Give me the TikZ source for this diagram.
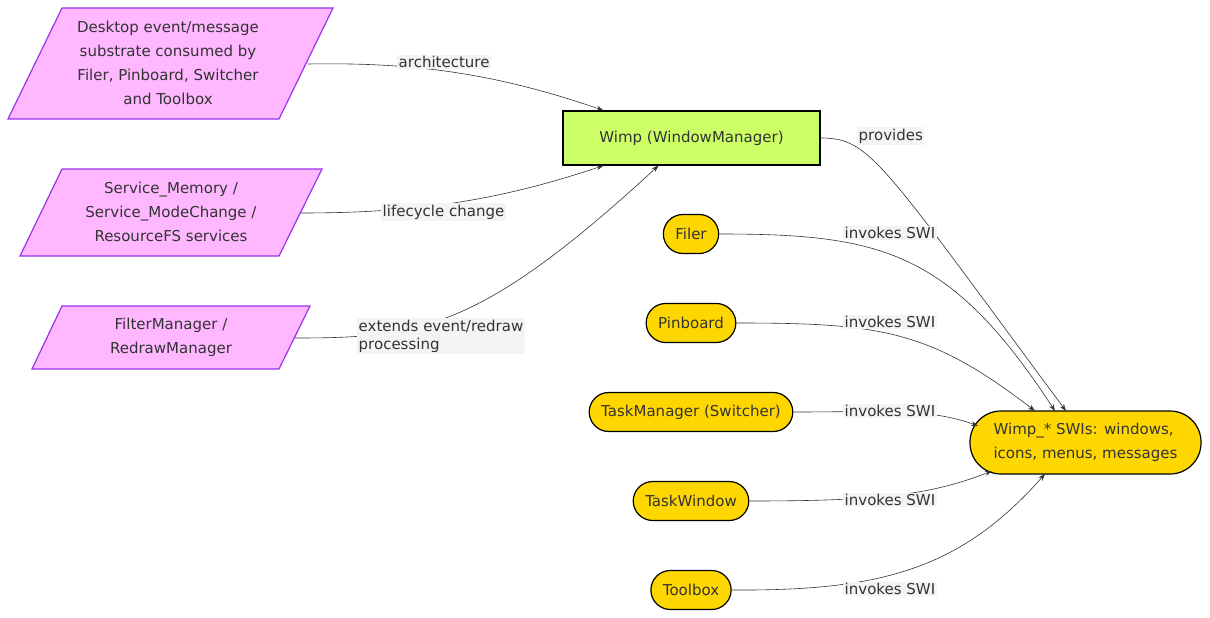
\documentclass[tikz,border=0pt]{standalone}
\usepackage{fontspec}
\setmainfont{DejaVu Sans}
\usetikzlibrary{arrows.meta}
\definecolor{pfill}{HTML}{FFB8FF}
\definecolor{pdraw}{HTML}{9933EE}
\definecolor{gfill}{HTML}{CCFF66}
\definecolor{yfill}{HTML}{FFD700}
\definecolor{lbg}{HTML}{F4F4F4}
\definecolor{tx}{HTML}{333333}
\tikzset{
  para/.style={fill=pfill,draw=pdraw,line width=1.2pt},
  ptext/.style={align=center,text=tx,font=\fontsize{15}{24}\selectfont},
  stad/.style={draw=black,fill=yfill,line width=1.2pt,rounded corners=19.5pt,text=tx,font=\fontsize{15}{24}\selectfont,minimum height=39pt,inner xsep=12pt},
  elab/.style={fill=lbg,text=tx,anchor=west,align=left,inner sep=1.5pt,font=\fontsize{15}{18}\selectfont},
  conn/.style={draw=tx,line width=0.6pt,-{Stealth[length=7pt,width=5pt]}}
}
\begin{document}
\begin{tikzpicture}[x=1pt,y=-1pt]
\useasboundingbox (0,0) rectangle (1210,618);
% parallelograms
\draw[para] (62,8)--(333,8)--(279,119)--(8,119)--cycle;
\node[ptext] (d1) at (168,63) {Desktop event/message\\substrate consumed by\\Filer, Pinboard, Switcher\\and Toolbox};
\draw[para] (62,169)--(322,169)--(279,256)--(20,256)--cycle;
\node[ptext] (d2) at (171,212) {Service\_Memory /\\Service\_ModeChange /\\ResourceFS services};
\draw[para] (62,306)--(310,306)--(279,369)--(32,369)--cycle;
\node[ptext] (d3) at (171,337) {FilterManager /\\RedrawManager};
\coordinate (d1e) at (308,64);
\coordinate (d2e) at (301,213);
\coordinate (d3e) at (295,338);
% wimp
\node[draw=black,fill=gfill,line width=1.2pt,minimum width=257pt,minimum height=54pt,text=tx,font=\fontsize{15}{18}\selectfont] (wimp) at (691.5,138) {Wimp (WindowManager)};
% stadiums
\node[stad] (filer) at (691,234) {Filer};
\node[stad] (pin) at (691,323) {Pinboard};
\node[stad] (tm) at (691,412) {TaskManager (Switcher)};
\node[stad] (tw) at (691,501) {TaskWindow};
\node[stad] (tb) at (691,590) {Toolbox};
\node[draw=black,fill=yfill,line width=1.2pt,rounded corners=31pt,minimum width=231pt,minimum height=63pt,align=left,text=tx,font=\fontsize{15}{24}\selectfont] (swi) at (1085.5,442.5) {Wimp\_* SWIs: windows,\\icons, menus, messages};
% connectors
\draw[conn] (d1e) .. controls (420,62) and (500,75) .. ([xshift=-88pt]wimp.north);
\draw[conn] (d2e) .. controls (420,213) and (500,200) .. ([xshift=-88pt]wimp.south);
\draw[conn] (d3e) .. controls (420,338) and (480,330) .. ([xshift=-33pt]wimp.south);
\draw[conn] (wimp.east) .. controls (870,138) and (880,160) .. (1066,411);
\draw[conn] (filer.east) .. controls (880,234) and (950,250) .. (1055,411);
\draw[conn] (pin.east) .. controls (880,323) and (930,330) .. (1035,411);
\draw[conn] (tm.east) .. controls (880,412) and (930,408) .. (978,426);
\draw[conn] (tw.east) .. controls (880,501) and (930,495) .. (992,471);
\draw[conn] (tb.east) .. controls (880,591) and (960,570) .. (1045,474);
% labels
\node[elab] at (397,62) {architecture};
\node[elab] at (381,212) {lifecycle change};
\node[elab] at (357,336) {extends event/redraw\\processing};
\node[elab] at (857,136) {provides};
\node[elab] at (843,233) {invokes SWI};
\node[elab] at (843,322) {invokes SWI};
\node[elab] at (843,411) {invokes SWI};
\node[elab] at (843,500) {invokes SWI};
\node[elab] at (843,589) {invokes SWI};
\end{tikzpicture}
\end{document}
